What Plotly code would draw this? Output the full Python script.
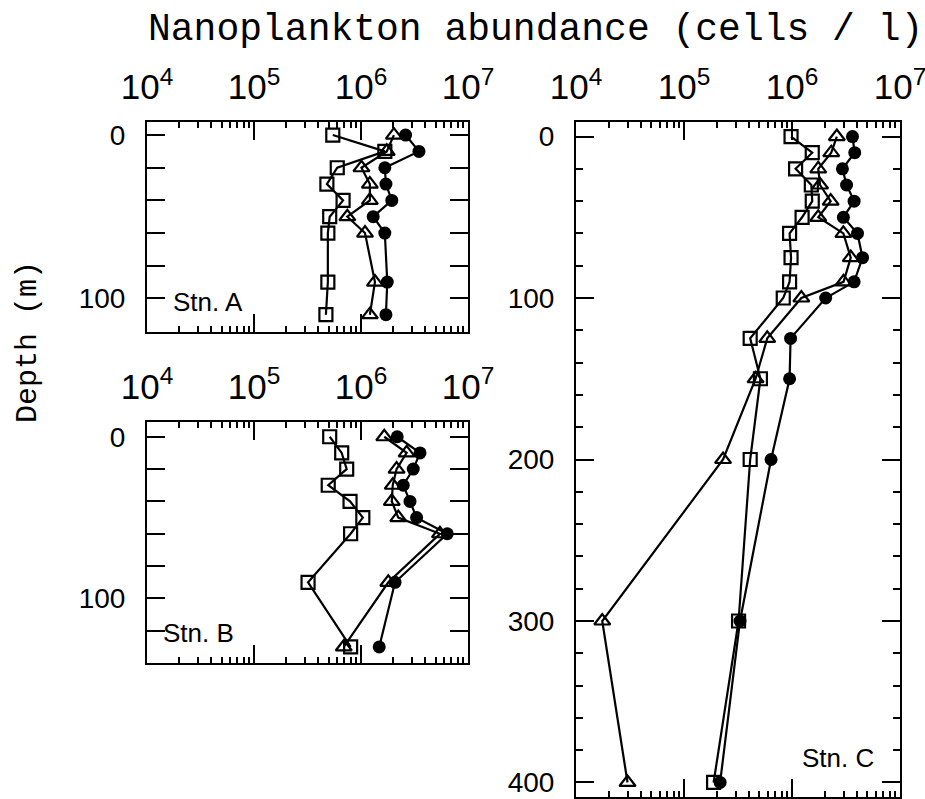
import plotly.graph_objects as go

# ---------------- data ----------------
A_depth = [0, 10, 20, 30, 40, 50, 60, 90, 110]
A_square = [5.45e5, 1.67e6, 6.0e5, 4.8e5, 6.8e5, 5.1e5, 4.9e5, 4.9e5, 4.7e5]
A_triangle = [2.03e6, 1.74e6, 1.01e6, 1.21e6, 1.21e6, 7.45e5, 1.09e6, 1.35e6, 1.21e6]
A_circle = [2.61e6, 3.48e6, 1.67e6, 1.71e6, 1.94e6, 1.30e6, 1.67e6, 1.76e6, 1.71e6]

B_depth = [0, 10, 20, 30, 40, 50, 60, 90, 130]
B_square = [5.1e5, 6.6e5, 7.35e5, 4.94e5, 7.9e5, 1.04e6, 8.0e5, 3.2e5, 8.0e5]
B_triangle = [1.65e6, 2.67e6, 2.15e6, 1.98e6, 1.94e6, 2.23e6, 5.47e6, 1.80e6, 6.9e5]
B_circle = [2.18e6, 3.56e6, 3.08e6, 2.48e6, 2.87e6, 3.31e6, 6.4e6, 2.08e6, 1.48e6]

C_depth = [0, 10, 20, 30, 40, 50, 60, 75, 90, 100, 125, 150, 200, 300, 400]
C_square = [9.8e5, 1.54e6, 1.08e6, 1.51e6, 1.54e6, 1.24e6, 9.5e5, 9.8e5, 9.5e5,
            8.3e5, 4.1e5, 5.1e5, 4.1e5, 3.2e5, 1.88e5]
C_triangle = [2.6e6, 2.31e6, 1.75e6, 1.82e6, 2.28e6, 1.75e6, 2.99e6, 3.5e6, 3.0e6,
              1.22e6, 5.9e5, 4.6e5, 2.3e5, 1.75e4, 3.0e4]
C_circle = [3.63e6, 3.81e6, 2.93e6, 3.2e6, 3.76e6, 2.99e6, 4.04e6, 4.5e6, 3.76e6,
            2.05e6, 9.7e5, 9.5e5, 6.4e5, 3.3e5, 2.16e5]

station_labels = ["Stn. A", "Stn. B", "Stn. C"]
title_text = "Nanoplankton abundance (cells / l)"
ylabel_text = "Depth (m)"

# ---------------- figure ----------------
W, H = 925, 799
fig = go.Figure()

panels = [
    ("x", "y", A_depth, A_square, A_triangle, A_circle),
    ("x2", "y2", B_depth, B_square, B_triangle, B_circle),
    ("x3", "y3", C_depth, C_square, C_triangle, C_circle),
]

for xa, ya, d, sq, tr, ci in panels:
    fig.add_trace(go.Scatter(x=sq, y=d, xaxis=xa, yaxis=ya, mode="lines+markers",
                             line=dict(color="black", width=2.2),
                             marker=dict(symbol="square-open", size=13, color="black",
                                         line=dict(width=2.2, color="black")),
                             showlegend=False))
    fig.add_trace(go.Scatter(x=tr, y=d, xaxis=xa, yaxis=ya, mode="lines+markers",
                             line=dict(color="black", width=2.2),
                             marker=dict(symbol="triangle-up-open", size=14, color="black",
                                         line=dict(width=2.2, color="black")),
                             showlegend=False))
    fig.add_trace(go.Scatter(x=ci, y=d, xaxis=xa, yaxis=ya, mode="lines+markers",
                             line=dict(color="black", width=2.2),
                             marker=dict(symbol="circle", size=13, color="black",
                                         line=dict(width=0)),
                             showlegend=False))

tick_font = dict(family="Liberation Sans, Arial, sans-serif", size=28, color="black")


def xaxis_cfg(domain, anchor):
    return dict(type="log", range=[4, 7], domain=domain, anchor=anchor, side="top",
                automargin=False, ticklabeloverflow="allow",
                showline=True, linecolor="black", linewidth=2, mirror="ticks",
                ticks="inside", ticklen=18, tickwidth=2, tickcolor="black",
                dtick=1, exponentformat="power", showexponent="all",
                tickfont=tick_font, ticklabelstandoff=8,
                minor=dict(ticks="inside", ticklen=6, tickwidth=1.5, tickcolor="black",
                           dtick="D1", showgrid=False),
                showgrid=False, zeroline=False)


def yaxis_cfg(domain, anchor, rng, major_dtick, minor_len):
    return dict(range=rng, domain=domain, anchor=anchor, side="left",
                automargin=False, ticklabeloverflow="allow",
                showline=True, linecolor="black", linewidth=2, mirror="ticks",
                ticks="inside", ticklen=18, tickwidth=2, tickcolor="black",
                tick0=0, dtick=major_dtick, tickfont=tick_font, ticklabelstandoff=14,
                minor=dict(ticks="inside", ticklen=minor_len, tickwidth=2,
                           tickcolor="black", tick0=0, dtick=20, showgrid=False),
                showgrid=False, zeroline=False)


xdomAB = [147 / W, 468 / W]
xdomC = [576 / W, 900 / W]
ydomA = [1 - 331.7 / H, 1 - 122 / H]
ydomB = [1 - 663.3 / H, 1 - 421.7 / H]
ydomC = [1 - 797 / H, 1 - 122 / H]

fig.update_layout(
    width=W, height=H,
    margin=dict(l=0, r=0, t=0, b=0, autoexpand=False),
    paper_bgcolor="white", plot_bgcolor="white",
    xaxis=xaxis_cfg(xdomAB, "y"),
    yaxis=yaxis_cfg(ydomA, "x", [120.4, -8], 100, 18),
    xaxis2=xaxis_cfg(xdomAB, "y2"),
    yaxis2=yaxis_cfg(ydomB, "x2", [140.1, -9.3], 100, 18),
    xaxis3=xaxis_cfg(xdomC, "y3"),
    yaxis3=yaxis_cfg(ydomC, "x3", [409, -9], 100, 7),
)

mono = "Liberation Mono, Courier New, monospace"
label_font = dict(family="Liberation Sans, Arial, sans-serif", size=26, color="black")
annotations = [
    dict(text=title_text, x=535 / W, y=1 - 30 / H, xref="paper", yref="paper",
         showarrow=False, xanchor="center", yanchor="middle",
         font=dict(family=mono, size=38, color="black")),
    dict(text=ylabel_text, x=28 / W, y=1 - 342 / H, xref="paper", yref="paper",
         showarrow=False, xanchor="center", yanchor="middle", textangle=-90,
         font=dict(family=mono, size=30, color="black")),
    dict(text=station_labels[0], x=171 / W, y=1 - 302 / H, xref="paper", yref="paper",
         showarrow=False, xanchor="left", yanchor="middle", font=label_font),
    dict(text=station_labels[1], x=161 / W, y=1 - 633 / H, xref="paper", yref="paper",
         showarrow=False, xanchor="left", yanchor="middle", font=label_font),
    dict(text=station_labels[2], x=800 / W, y=1 - 758 / H, xref="paper", yref="paper",
         showarrow=False, xanchor="left", yanchor="middle", font=label_font),
]
fig.update_layout(annotations=annotations)

fig.write_html("out.html")
